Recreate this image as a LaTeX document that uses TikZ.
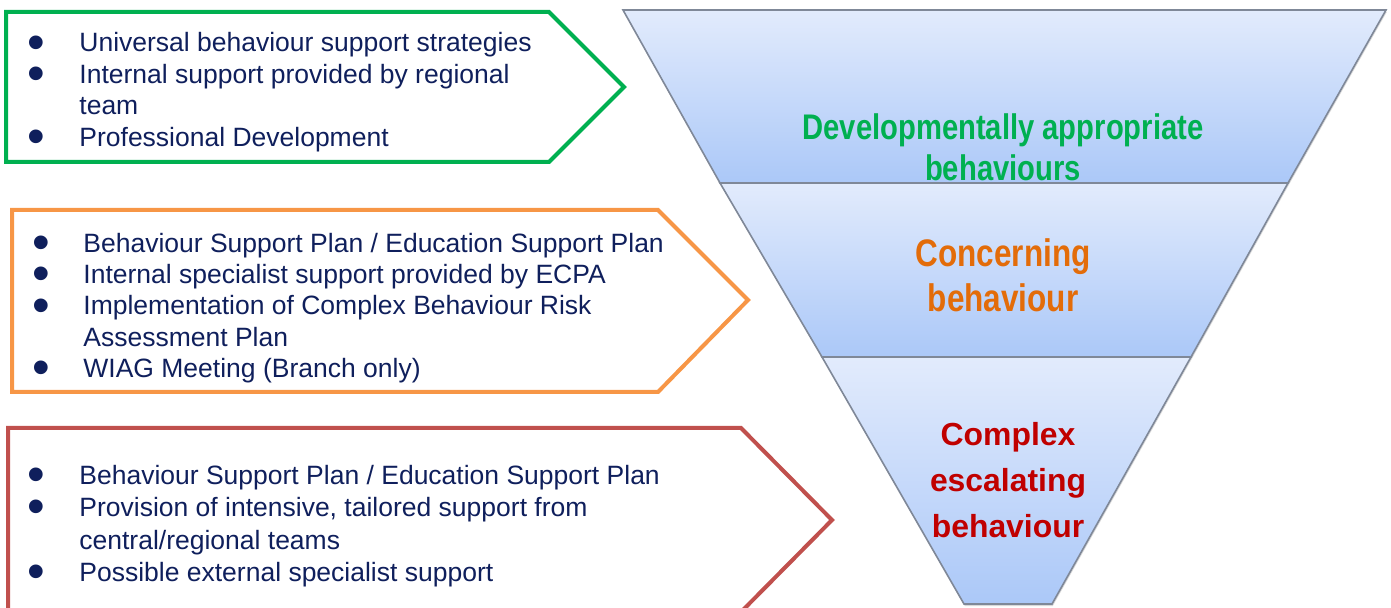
\documentclass[tikz,border=0pt]{standalone}
\usepackage{fontspec}
\setmainfont{Liberation Sans}
\newfontfamily\narrowfont[FakeStretch=0.82]{Liberation Sans}
\usetikzlibrary{shadows}
\definecolor{navy}{HTML}{0F1F5C}
\definecolor{boxgreen}{HTML}{00B050}
\definecolor{boxorange}{HTML}{F79646}
\definecolor{boxred}{HTML}{C0504D}
\definecolor{txtorange}{HTML}{E36C09}
\definecolor{txtred}{HTML}{C00000}
\definecolor{bandtop}{HTML}{E2EBFC}
\definecolor{bandbot}{HTML}{ABC8F8}
\definecolor{bandline}{HTML}{7F8898}
\newcommand{\bul}{\makebox[0pt]{\raisebox{-3.6pt}{\scalebox{1.9}{\textbullet}}}}
\begin{document}
\begin{tikzpicture}[x=0.5pt,y=-0.5pt,
  arrowbox/.style={line width=2pt,line join=miter},
  band/.style={draw=bandline,line width=0.8pt,top color=bandtop,bottom color=bandbot,
    drop shadow={opacity=0.3,shadow xshift=0.4pt,shadow yshift=-1pt}},
  listtext/.style={anchor=base west,inner sep=0pt,text=navy},
  bandtext/.style={anchor=base,inner sep=0pt}]
\useasboundingbox (0,0) rectangle (1391,608);

% funnel
\draw[band] (623,10) -- (1386,10) -- (1288,183) -- (720,183) -- cycle ;
\draw[band] (720,183) -- (1288,183) -- (1191,357) -- (822,357) -- cycle ;
\draw[band] (822,357) -- (1191,357) -- (1052,604) -- (964,604) -- cycle ;

\node[bandtext,text=boxgreen,font=\narrowfont\bfseries\fontsize{17.8}{20.5}\selectfont] (devtext) at (1003,140)
  {\begin{tabular}[t]{@{}c@{}}Developmentally appropriate\\behaviours\end{tabular}} ;
\node[bandtext,text=txtorange,font=\narrowfont\bfseries\fontsize{19.2}{22.5}\selectfont] (context) at (1003,267)
  {\begin{tabular}[t]{@{}c@{}}Concerning\\behaviour\end{tabular}} ;
\node[bandtext,text=txtred,font=\bfseries\fontsize{15.95}{23}\selectfont] (comtext) at (1008,446)
  {\begin{tabular}[t]{@{}c@{}}Complex\\escalating\\behaviour\end{tabular}} ;

% arrows on the left
\draw[arrowbox,boxgreen] (6,12) -- (549,12) -- (624,87) -- (549,162) -- (6,162) -- cycle ;
\draw[arrowbox,boxorange] (12,210) -- (658,210) -- (748,300) -- (658,392) -- (12,392) -- cycle ;
\draw[arrowbox,boxred] (8,428) -- (741,428) -- (832,520) -- (741,612) -- (8,612) -- cycle ;

\node[listtext,font=\fontsize{13.25}{15.75}\selectfont] (greenlist) at (36,52) {\begin{tabular}[t]{@{}p{21.5pt}@{}l@{}}
\bul & Universal behaviour support strategies\\
\bul & Internal support provided by regional\\
 & team\\
\bul & Professional Development
\end{tabular}} ;
\node[listtext,font=\fontsize{13.25}{15.6}\selectfont] (orangelist) at (41,252.5) {\begin{tabular}[t]{@{}p{21pt}@{}l@{}}
\bul & Behaviour Support Plan / Education Support Plan\\
\bul & Internal specialist support provided by ECPA\\
\bul & Implementation of Complex Behaviour Risk\\
 & Assessment Plan\\
\bul & WIAG Meeting (Branch only)
\end{tabular}} ;
\node[listtext,font=\fontsize{13.25}{16.15}\selectfont] (redlist) at (36,484.5) {\begin{tabular}[t]{@{}p{21.5pt}@{}l@{}}
\bul & Behaviour Support Plan / Education Support Plan\\
\bul & Provision of intensive, tailored support from\\
 & central/regional teams\\
\bul & Possible external specialist support
\end{tabular}} ;
\end{tikzpicture}
\end{document}
